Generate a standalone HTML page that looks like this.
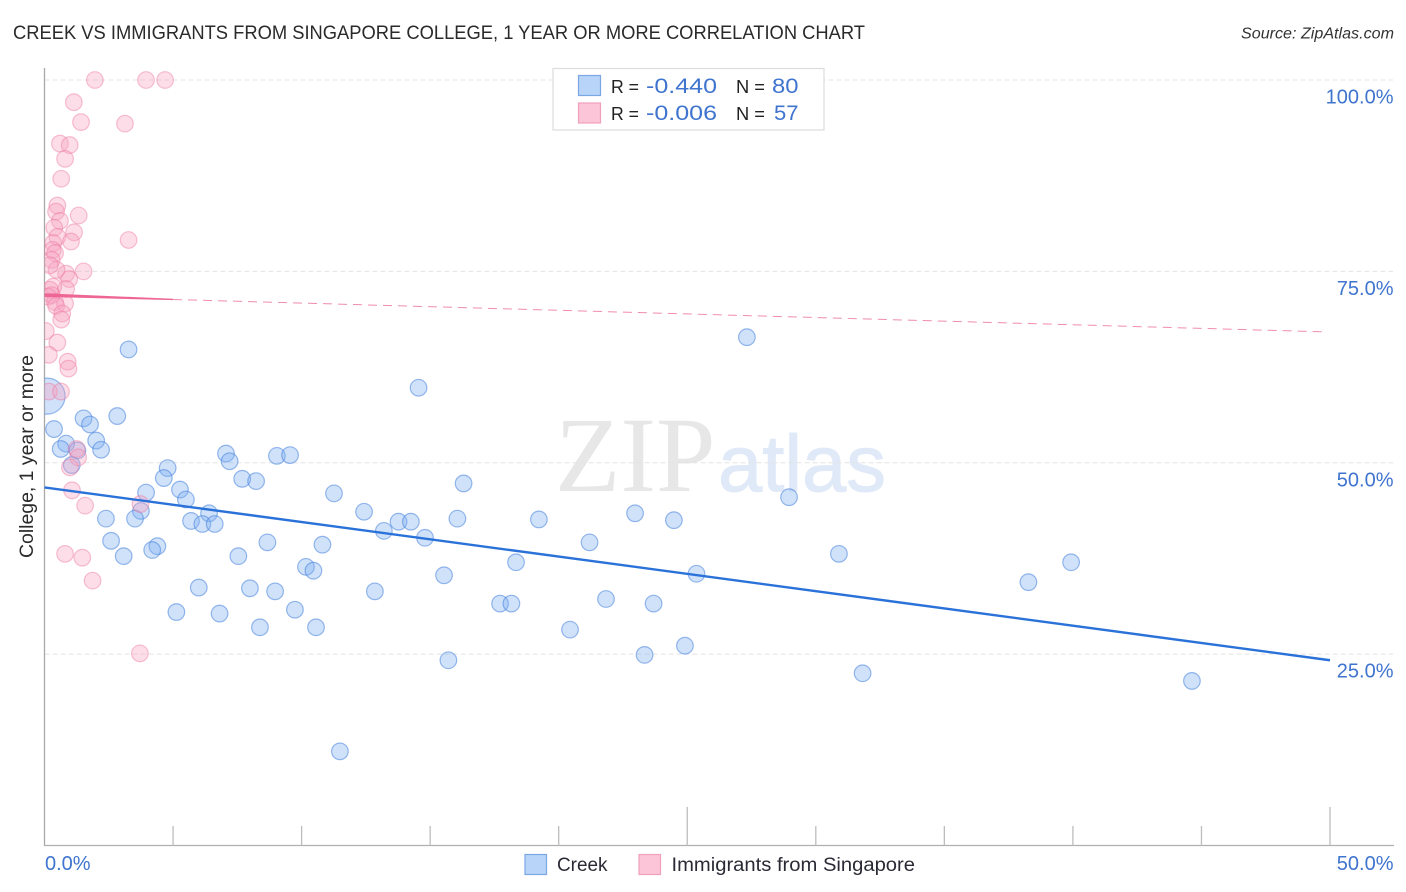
<!DOCTYPE html>
<html lang="en">
<head>
<meta charset="utf-8">
<title>Creek vs Immigrants from Singapore College Correlation Chart</title>
<style>
html,body{margin:0;padding:0;background:#fff;width:1406px;height:892px;overflow:hidden}
svg{display:block;font-family:"Liberation Sans",sans-serif}
</style>
</head>
<body>
<svg id="chart" xmlns="http://www.w3.org/2000/svg" width="1406" height="892" viewBox="0 0 1406 892">
  <defs>
    <clipPath id="plot-clip"><rect x="44.5" y="60" width="1350" height="786"/></clipPath>
  </defs>
  <text x="13" y="39" font-size="19" fill="#2a2a2a" textLength="852" lengthAdjust="spacingAndGlyphs">CREEK VS IMMIGRANTS FROM SINGAPORE COLLEGE, 1 YEAR OR MORE CORRELATION CHART</text>
  <text x="1394" y="38.5" font-size="15.5" font-style="italic" fill="#333" text-anchor="end" textLength="153" lengthAdjust="spacingAndGlyphs">Source: ZipAtlas.com</text>

  <text x="555" y="491" font-family="'Liberation Serif',serif" font-size="107" fill="#e7e7e7">ZIP</text>
  <text x="718" y="491" font-size="80" fill="#dfe9f8" stroke="#dfe9f8" stroke-width="1" textLength="168" lengthAdjust="spacingAndGlyphs">atlas</text>

  <g id="grid"></g>
  <g id="axes"></g>
  <g id="y-labels"></g>
  <g id="x-labels"></g>
  <g id="points-blue" clip-path="url(#plot-clip)"></g>
  <g id="points-pink" clip-path="url(#plot-clip)"></g>
  <g id="trends"></g>

  <text transform="translate(33,558) rotate(-90)" font-size="19" fill="#2a2a2a" textLength="203" lengthAdjust="spacingAndGlyphs">College, 1 year or more</text>

  <g>
    <rect x="553" y="68.5" width="271" height="61.5" fill="#fff" stroke="#dcdcdc" stroke-width="1.2"/>
    <rect x="578.5" y="75.5" width="22" height="20" fill="#b8d4f8" stroke="#7ba8e4" stroke-width="1.2"/>
    <rect x="578.5" y="103" width="22" height="20" fill="#fcc5d8" stroke="#f0a0bc" stroke-width="1.2"/>
    <text x="611" y="93" font-size="18" fill="#222" textLength="28" lengthAdjust="spacingAndGlyphs">R =</text>
    <text x="646" y="93" font-size="21.5" fill="#3f74cf" textLength="71" lengthAdjust="spacingAndGlyphs">-0.440</text>
    <text x="736" y="93" font-size="18" fill="#222" textLength="29" lengthAdjust="spacingAndGlyphs">N =</text>
    <text x="772" y="93" font-size="21.5" fill="#3f74cf" textLength="26.5" lengthAdjust="spacingAndGlyphs">80</text>
    <text x="611" y="120" font-size="18" fill="#222" textLength="28" lengthAdjust="spacingAndGlyphs">R =</text>
    <text x="646" y="120" font-size="21.5" fill="#3f74cf" textLength="71" lengthAdjust="spacingAndGlyphs">-0.006</text>
    <text x="736" y="120" font-size="18" fill="#222" textLength="29" lengthAdjust="spacingAndGlyphs">N =</text>
    <text x="774" y="120" font-size="21.5" fill="#3f74cf" textLength="24.5" lengthAdjust="spacingAndGlyphs">57</text>
  </g>

  <g>
    <rect x="525" y="854.5" width="21.5" height="20" fill="#b8d4f8" stroke="#7ba8e4" stroke-width="1.2"/>
    <text x="557" y="871" font-size="19" fill="#2a2a35" textLength="50.5" lengthAdjust="spacingAndGlyphs">Creek</text>
    <rect x="639" y="854.5" width="21.5" height="20" fill="#fcc5d8" stroke="#f0a0bc" stroke-width="1.2"/>
    <text x="671.5" y="871" font-size="19" fill="#2a2a35" textLength="243.5" lengthAdjust="spacingAndGlyphs">Immigrants from Singapore</text>
  </g>
</svg>

<script>
var yTickValues = [100, 75, 50, 25];
var yTickLabels = ["100.0%", "75.0%", "50.0%", "25.0%"];
var xTickValues = [0, 5, 10, 15, 20, 25, 30, 35, 40, 45, 50];
var xMajorTicks = [25, 50];
var xEndLabels = ["0.0%", "50.0%"];

var creekX = [3.27,27.32,14.55,1.52,1.77,2.83,0.37,0.84,0.63,1.28,2.01,2.2,1.06,4.79,4.64,3.95,5.27,5.5,6.4,5.7,6.14,6.62,3.75,3.52,2.39,2.59,3.08,4.39,4.19,7.54,6.0,7.99,5.13,6.81,7.06,7.2,7.69,8.23,9.04,9.55,11.26,12.43,13.2,13.77,14.25,14.8,16.3,16.06,19.23,22.97,24.48,28.96,21.2,18.34,15.54,25.36,30.9,39.93,38.27,21.84,23.69,17.72,18.16,20.44,23.34,24.91,15.71,31.82,44.63,11.49,12.85,10.81,10.17,10.46,8.67,8.97,9.74,10.56,8.38];
var creekY = [64.8,66.4,59.8,55.8,55.0,56.1,54.4,52.5,51.8,51.6,52.9,51.7,49.7,49.3,48.0,46.1,46.5,45.2,43.4,42.4,42.0,42.0,43.7,42.7,42.7,39.8,37.8,39.1,38.6,37.8,33.7,33.6,30.5,30.3,51.2,50.2,47.9,47.6,50.9,51.0,46.0,43.6,41.1,42.3,42.3,40.2,47.3,42.7,42.6,43.4,42.5,45.5,39.6,37.0,35.3,35.5,38.1,37.0,34.4,32.2,31.6,31.6,31.6,28.2,24.9,26.1,24.2,22.5,21.5,12.3,33.2,39.3,36.4,35.9,39.6,33.2,30.8,28.5,28.5];
var creekBigX = [0.1];
var creekBigY = [58.7];

var singaporeX = [1.96,3.95,4.69,1.14,1.42,3.13,0.6,0.98,0.8,0.65,0.5,0.45,0.6,1.33,0.38,1.15,0.5,1.03,3.27,0.34,0.32,0.41,0.28,1.52,0.84,0.96,0.47,0.21,0.84,0.34,0.21,0.28,0.14,0.41,0.8,0.45,0.69,0.65,0.05,0.5,0.17,0.9,0.93,0.17,0.64,1.25,1.31,0.99,1.07,1.58,3.73,0.8,1.47,1.87,3.71];
var singaporeY = [100,100,100,97.1,94.5,94.3,91.7,91.5,89.7,87.1,83.6,82.8,81.6,82.3,80.7,80.1,79.5,78.9,79.1,78.7,77.8,77.4,76.5,75.0,74.7,74.0,75.2,75.8,72.7,73.0,72.6,71.9,71.7,71.0,70.8,70.5,69.5,68.7,67.2,65.7,64.1,63.2,62.3,59.3,59.3,51.8,50.7,49.4,46.4,44.4,44.6,38.1,37.6,34.6,25.1];

var creekTrendX = [0, 50];
var creekTrendY = [46.77, 24.2];
var singaporeSolidX = [0, 5];
var singaporeSolidY = [71.9, 71.33];
var singaporeDashX = [5, 49.8];
var singaporeDashY = [71.33, 67.1];

var NS = "http://www.w3.org/2000/svg";
function xScale(v) { return 44.5 + v * 25.71; }
function yScale(v) { return 80 + (100 - v) * 7.655; }
function make(tag, parent) {
  var el = document.createElementNS(NS, tag);
  document.getElementById(parent).appendChild(el);
  return el;
}

yTickValues.forEach(function (v, i) {
  var g = make("line", "grid");
  
  
  g.setAttribute("x1", 44.5);
  g.setAttribute("x2", 1393);
  g.setAttribute("y1", yScale(v));
  g.setAttribute("y2", yScale(v));
  g.setAttribute("stroke", "#e4e4e4");
  g.setAttribute("stroke-width", "1");
  g.setAttribute("stroke-dasharray", "5 3");

  var t = make("text", "y-labels");
  
  
  t.setAttribute("x", 1393.5);
  t.setAttribute("y", yScale(v) + 23.5);
  t.setAttribute("text-anchor", "end");
  t.setAttribute("font-size", "20");
  t.setAttribute("fill", "#3f74cf");
  t.textContent = yTickLabels[i];
});

var yAxis = make("line", "axes");


yAxis.setAttribute("x1", 44.5);
yAxis.setAttribute("x2", 44.5);
yAxis.setAttribute("y1", 68);
yAxis.setAttribute("y2", 846);
yAxis.setAttribute("stroke", "#a8a8a8");
yAxis.setAttribute("stroke-width", "1.3");

var xAxis = make("line", "axes");


xAxis.setAttribute("x1", 44);
xAxis.setAttribute("x2", 1394);
xAxis.setAttribute("y1", 845.5);
xAxis.setAttribute("y2", 845.5);
xAxis.setAttribute("stroke", "#b0b0b0");
xAxis.setAttribute("stroke-width", "1.3");

xTickValues.forEach(function (v) {
  if (v === 0) return;
  var tick = make("line", "axes");
  
  
  tick.setAttribute("x1", xScale(v));
  tick.setAttribute("x2", xScale(v));
  tick.setAttribute("y1", xMajorTicks.indexOf(v) >= 0 ? 807 : 826);
  tick.setAttribute("y2", 845.5);
  tick.setAttribute("stroke", "#bdbdbd");
  tick.setAttribute("stroke-width", "1.3");
});

var xl0 = make("text", "x-labels");


xl0.setAttribute("x", 45);
xl0.setAttribute("y", 870);
xl0.setAttribute("font-size", "20");
xl0.setAttribute("fill", "#3f74cf");
xl0.textContent = xEndLabels[0];

var xl1 = make("text", "x-labels");


xl1.setAttribute("x", 1393.5);
xl1.setAttribute("y", 870);
xl1.setAttribute("font-size", "20");
xl1.setAttribute("text-anchor", "end");
xl1.setAttribute("fill", "#3f74cf");
xl1.textContent = xEndLabels[1];

creekX.forEach(function (v, i) {
  var c = make("circle", "points-blue");
  
  
  c.setAttribute("cx", xScale(v));
  c.setAttribute("cy", yScale(creekY[i]));
  c.setAttribute("r", 8.3);
  c.setAttribute("fill", "rgba(125,175,240,0.36)");
  c.setAttribute("stroke", "rgba(70,130,220,0.55)");
  c.setAttribute("stroke-width", "1.2");
});

creekBigX.forEach(function (v, i) {
  var c = make("circle", "points-blue");
  
  
  c.setAttribute("cx", xScale(v));
  c.setAttribute("cy", yScale(creekBigY[i]));
  c.setAttribute("r", 18);
  c.setAttribute("fill", "rgba(125,175,240,0.36)");
  c.setAttribute("stroke", "rgba(70,130,220,0.55)");
  c.setAttribute("stroke-width", "1.2");
});

singaporeX.forEach(function (v, i) {
  var c = make("circle", "points-pink");
  
  
  c.setAttribute("cx", xScale(v));
  c.setAttribute("cy", yScale(singaporeY[i]));
  c.setAttribute("r", 8.3);
  c.setAttribute("fill", "rgba(248,160,190,0.36)");
  c.setAttribute("stroke", "rgba(238,120,160,0.45)");
  c.setAttribute("stroke-width", "1.2");
});

var creekLine = make("line", "trends");


creekLine.setAttribute("x1", xScale(creekTrendX[0]));
creekLine.setAttribute("x2", xScale(creekTrendX[1]));
creekLine.setAttribute("y1", yScale(creekTrendY[0]));
creekLine.setAttribute("y2", yScale(creekTrendY[1]));
creekLine.setAttribute("stroke", "#2a72d9");
creekLine.setAttribute("stroke-width", "2.4");

var pinkSolid = make("polygon", "trends");


pinkSolid.setAttribute("points", [
  xScale(singaporeSolidX[0]) + "," + (yScale(singaporeSolidY[0]) - 1.8),
  xScale(singaporeSolidX[1]) + "," + (yScale(singaporeSolidY[1]) - 0.7),
  xScale(singaporeSolidX[1]) + "," + (yScale(singaporeSolidY[1]) + 0.7),
  xScale(singaporeSolidX[0]) + "," + (yScale(singaporeSolidY[0]) + 1.8)
].join(" "));
pinkSolid.setAttribute("fill", "#ee6794");

var pinkDash = make("line", "trends");


pinkDash.setAttribute("x1", xScale(singaporeDashX[0]));
pinkDash.setAttribute("x2", xScale(singaporeDashX[1]));
pinkDash.setAttribute("y1", yScale(singaporeDashY[0]));
pinkDash.setAttribute("y2", yScale(singaporeDashY[1]));
pinkDash.setAttribute("stroke", "#f08cae");
pinkDash.setAttribute("stroke-width", "1");
pinkDash.setAttribute("stroke-dasharray", "9 6");
</script>
</body>
</html>
